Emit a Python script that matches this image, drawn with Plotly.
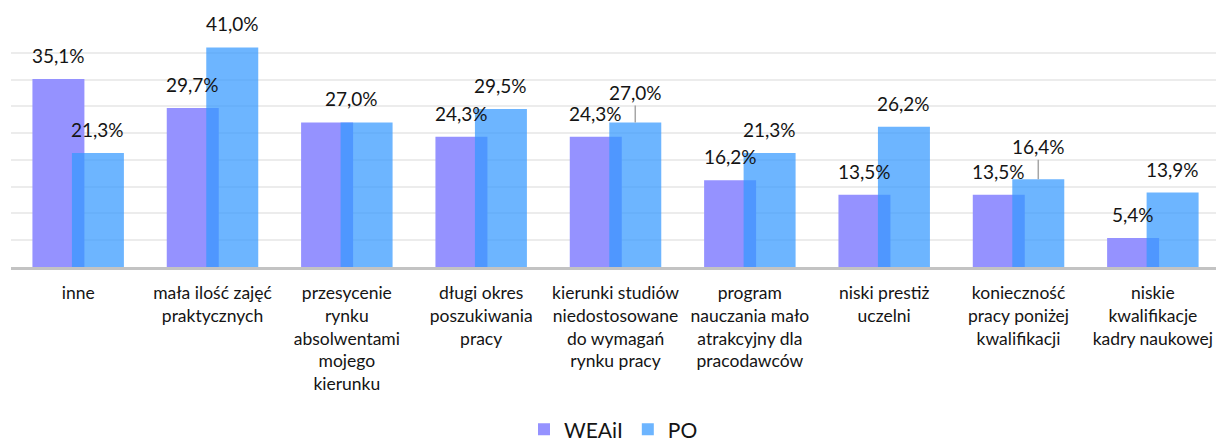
import plotly.graph_objects as go

categories = [
    "inne",
    "mała ilość zajęć praktycznych",
    "przesycenie rynku absolwentami mojego kierunku",
    "długi okres poszukiwania pracy",
    "kierunki studiów niedostosowane do wymagań rynku pracy",
    "program nauczania mało atrakcyjny dla pracodawców",
    "niski prestiż uczelni",
    "konieczność pracy poniżej kwalifikacji",
    "niskie kwalifikacje kadry naukowej",
]
tick_labels = [
    "inne",
    "mała ilość zajęć<br>praktycznych",
    "przesycenie<br>rynku<br>absolwentami<br>mojego<br>kierunku",
    "długi okres<br>poszukiwania<br>pracy",
    "kierunki studiów<br>niedostosowane<br>do wymagań<br>rynku pracy",
    "program<br>nauczania mało<br>atrakcyjny dla<br>pracodawców",
    "niski prestiż<br>uczelni",
    "konieczność<br>pracy poniżej<br>kwalifikacji",
    "niskie<br>kwalifikacje<br>kadry naukowej",
]
weaii = [35.1, 29.7, 27.0, 24.3, 24.3, 16.2, 13.5, 13.5, 5.4]
po = [21.3, 41.0, 27.0, 29.5, 27.0, 21.3, 26.2, 16.4, 13.9]

# ---- style ----
FONT = "Lato"
TXT = "#141414"
C_W = "#9592ff"
C_P = "rgba(52,152,255,0.72)"
BAR_W = 0.387
OFF_W = -0.3405
OFF_P = -0.0465
CEN_W = OFF_W + BAR_W / 2
CEN_P = OFF_P + BAR_W / 2
GAP = 23.5


def fmt(v):
    return f"{v:.1f}".replace(".", ",") + "%"


fig = go.Figure()
fig.add_trace(go.Bar(x=categories, y=weaii, name="WEAiI", width=BAR_W, offset=OFF_W,
                     marker=dict(color=C_W, line=dict(width=0))))
fig.add_trace(go.Bar(x=categories, y=po, name="PO", width=BAR_W, offset=OFF_P,
                     marker=dict(color=C_P, line=dict(width=0))))

lab_font = dict(family=FONT, size=19, color=TXT)
ann = []
# label tweaks (Excel-moved labels)
skip_w = {2}
shift_p = {2: 0.035 - CEN_P}
leader_p = {4: -30, 7: -32.5}

for i, v in enumerate(weaii):
    if i in skip_w:
        continue
    ann.append(dict(x=i + CEN_W, y=v, xref="x", yref="y", text=fmt(v), showarrow=False,
                    yshift=GAP, font=lab_font))
for i, v in enumerate(po):
    dx = shift_p.get(i, 0.0)
    if i in leader_p:
        ann.append(dict(x=i + CEN_P + dx, y=v, xref="x", yref="y", text=fmt(v), showarrow=True,
                        arrowhead=0, arrowwidth=1.5, arrowcolor="#a6a6a6", ax=0, ay=leader_p[i],
                        standoff=0, startstandoff=0, font=lab_font))
    else:
        ann.append(dict(x=i + CEN_P + dx, y=v, xref="x", yref="y", text=fmt(v), showarrow=False,
                        yshift=GAP, font=lab_font))

fig.update_layout(
    width=1216, height=442,
    barmode="overlay",
    paper_bgcolor="white", plot_bgcolor="white",
    margin=dict(l=10.5, r=0, t=25.5, b=175, autoexpand=False),
    annotations=ann,
    showlegend=True,
    legend=dict(orientation="h", x=0.5, xanchor="center", y=-0.675, yanchor="middle",
                font=dict(family=FONT, size=21, color=TXT), traceorder="normal",
                itemwidth=30, tracegroupgap=0),
    xaxis=dict(type="category", range=[-0.5, 8.47], tickvals=categories, ticktext=tick_labels,
               showline=True, linecolor="#c3c3c3", linewidth=3, ticks="", showgrid=False,
               ticklabelstandoff=8,
               tickfont=dict(family=FONT, size=17.5, color=TXT)),
    yaxis=dict(range=[0, 45], dtick=5, showticklabels=False, showgrid=True,
               gridcolor="#ececec", gridwidth=1.5, zeroline=False, ticks=""),
    font=dict(family=FONT, color=TXT),
)

fig.write_html("out.html", config={"displayModeBar": False},
               post_script="document.body.style.margin='0';document.body.style.padding='0';")
